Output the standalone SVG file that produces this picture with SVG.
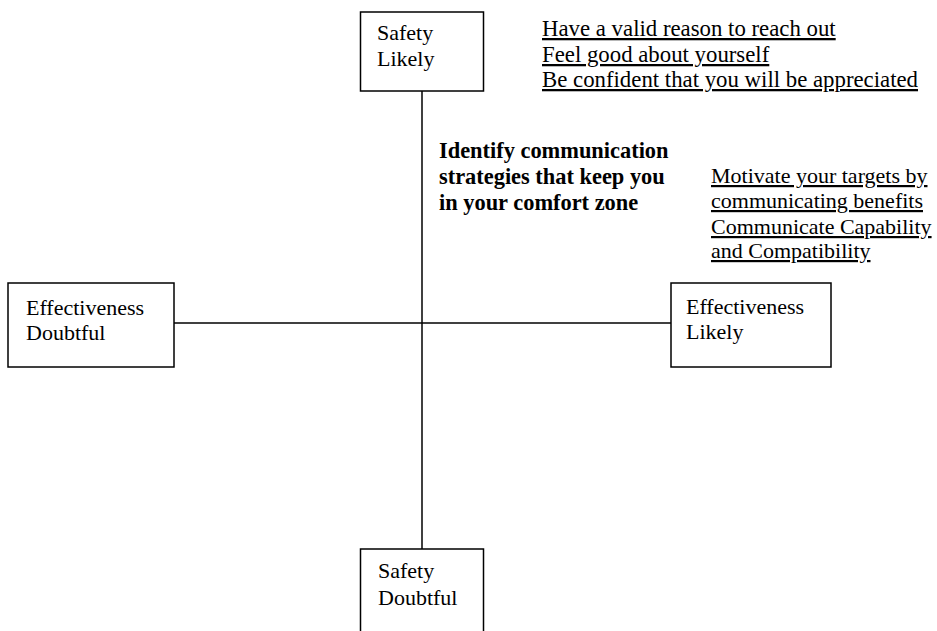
<svg xmlns="http://www.w3.org/2000/svg" width="937" height="631" viewBox="0 0 937 631">
<style>
.box{fill:#fff;stroke:#000;stroke-width:1.5}
.ln{stroke:#000;stroke-width:1.5;fill:none}
text{font-family:"Liberation Serif","Times New Roman",serif;font-size:22px;fill:#000}
.u{text-decoration:underline}
.b{font-weight:bold;font-size:22.4px}
.big{font-size:22.8px}
</style>
<rect width="937" height="631" fill="#fff"/>
<g id="connectors">
<line class="ln" x1="422" y1="91" x2="422" y2="549"/>
<line class="ln" x1="174" y1="323" x2="671" y2="323"/>
</g>
<g id="safety-likely">
<rect class="box" x="360.5" y="12" width="123" height="79"/>
<text x="377" y="40">Safety</text>
<text x="377" y="66">Likely</text>
</g>
<g id="safety-doubtful">
<rect class="box" x="360.5" y="549" width="123" height="90"/>
<text x="378" y="578">Safety</text>
<text x="378" y="605">Doubtful</text>
</g>
<g id="effectiveness-doubtful">
<rect class="box" x="8" y="283" width="166" height="84"/>
<text x="26" y="315">Effectiveness</text>
<text x="26" y="340">Doubtful</text>
</g>
<g id="effectiveness-likely">
<rect class="box" x="671" y="283" width="160" height="84"/>
<text x="686" y="314">Effectiveness</text>
<text x="686" y="339">Likely</text>
</g>
<g id="safety-strategies">
<text class="u big" x="542" y="36">Have a valid reason to reach out</text>
<text class="u big" x="542" y="62">Feel good about yourself</text>
<text class="u big" x="542" y="87">Be confident that you will be appreciated</text>
</g>
<g id="comfort-zone">
<text class="b" x="439" y="158">Identify communication</text>
<text class="b" x="439" y="184">strategies that keep you</text>
<text class="b" x="439" y="210">in your comfort zone</text>
</g>
<g id="effectiveness-strategies">
<text class="u" x="711" y="183">Motivate your targets by</text>
<text class="u" x="711" y="208">communicating benefits</text>
<text class="u" x="711" y="234">Communicate Capability</text>
<text class="u" x="711" y="258">and Compatibility</text>
</g>
</svg>
